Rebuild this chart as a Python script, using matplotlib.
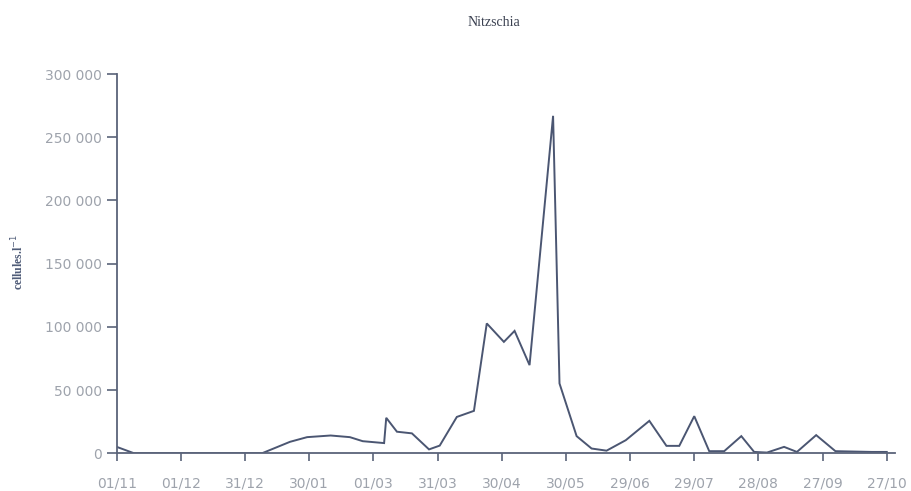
import matplotlib
matplotlib.use("Agg")
import matplotlib.pyplot as plt
import matplotlib.dates as mdates
from matplotlib.ticker import FuncFormatter, FixedLocator
import pandas as pd

# Sampling dates and Nitzschia counts (cells per litre)
dates = [
    "2004-11-01", "2004-11-09", "2005-01-08", "2005-01-21", "2005-01-29",
    "2005-02-09", "2005-02-18", "2005-02-24", "2005-03-06", "2005-03-07",
    "2005-03-12", "2005-03-19", "2005-03-27", "2005-04-01", "2005-04-09",
    "2005-04-17", "2005-04-23", "2005-05-01", "2005-05-06", "2005-05-13",
    "2005-05-24", "2005-05-27", "2005-06-04", "2005-06-11", "2005-06-18",
    "2005-06-27", "2005-07-08", "2005-07-16", "2005-07-22", "2005-07-29",
    "2005-08-05", "2005-08-12", "2005-08-20", "2005-08-26", "2005-09-01",
    "2005-09-09", "2005-09-15", "2005-09-24", "2005-10-03", "2005-10-20",
    "2005-10-27",
]
cells = [
    5000, 0, 0, 9000, 12700,
    14000, 12700, 9500, 8000, 28000,
    17000, 15700, 3000, 6000, 28700,
    33500, 102700, 88100, 96800, 69700,
    267000, 55200, 13500, 3700, 2000,
    10300, 25600, 5800, 5800, 29300,
    1600, 1600, 13500, 1000, 500,
    5000, 1000, 14300, 1600, 1000,
    1000,
]

# Axis ticks every 30 days from the first sampling date
tick_start = "2004-11-01"
tick_count = 13
tick_step_days = 30
y_ticks = [0, 50000, 100000, 150000, 200000, 250000, 300000]

title = "Nitzschia"
y_label = "cellules.l$^{-1}$"

line_color = "#4b5672"
axis_color = "#5a6379"
tick_label_color = "#9ea3ac"

x = pd.to_datetime(dates)
tick_dates = pd.date_range(tick_start, periods=tick_count, freq=f"{tick_step_days}D")

fig = plt.figure(figsize=(9.12, 4.91), dpi=100)
ax = fig.add_axes([0.128, 0.077, 0.853, 0.772])

ax.plot(x, cells, color=line_color, linewidth=1.4, solid_joinstyle="miter")

ax.set_ylim(0, 300000)
ax.set_xlim(pd.Timestamp(tick_start), pd.Timestamp(tick_start) + pd.Timedelta(days=363.7))

ax.yaxis.set_major_locator(FixedLocator(y_ticks))
ax.yaxis.set_major_formatter(FuncFormatter(lambda v, p: f"{int(v):,}".replace(",", " ")))
ax.xaxis.set_major_locator(FixedLocator(mdates.date2num(tick_dates)))
ax.xaxis.set_major_formatter(mdates.DateFormatter("%d/%m"))

for side in ("top", "right"):
    ax.spines[side].set_visible(False)
for side in ("left", "bottom"):
    ax.spines[side].set_color(axis_color)
    ax.spines[side].set_linewidth(1.3)

ax.tick_params(axis="both", colors=axis_color, labelcolor=tick_label_color,
               labelsize=10, width=1.2, direction="out")
ax.tick_params(axis="x", length=6, pad=11)
ax.tick_params(axis="y", length=7, pad=3.5)
for lbl in ax.get_xticklabels() + ax.get_yticklabels():
    lbl.set_family("DejaVu Sans")

fig.text(0.542, 0.955, title, ha="center", va="center",
         fontsize=10, family="Liberation Serif", color="#3a4050")
fig.text(0.020, 0.466, y_label, ha="center", va="center", rotation=90,
         fontsize=8.5, family="Liberation Serif", fontweight="bold", color="#4f5c78")

fig.savefig("out.png", dpi=100)
